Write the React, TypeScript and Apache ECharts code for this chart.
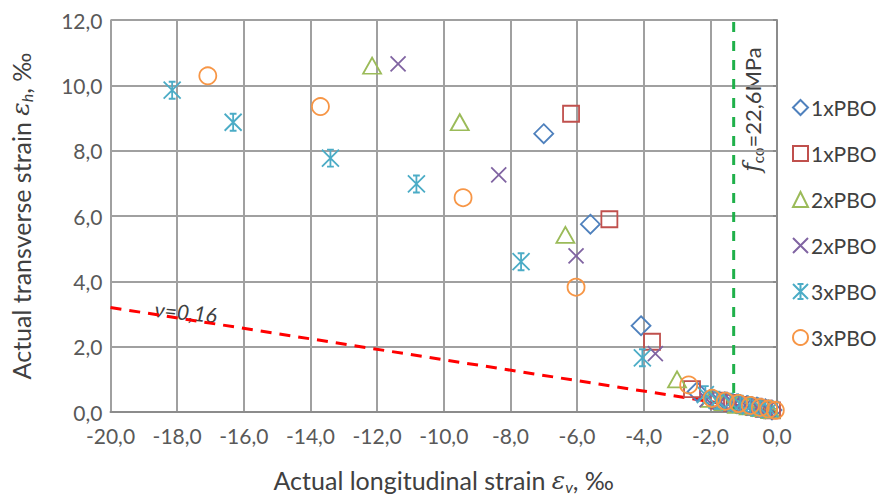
import React, { useEffect, useRef } from "react";
import * as echarts from "echarts";

// ---- data ----
const seriesNames = ["1xPBO", "1xPBO ", "2xPBO", "2xPBO ", "3xPBO", "3xPBO "];
const seriesColors = ["#4F81BD", "#C0504D", "#9BBB59", "#8064A2", "#4BACC6", "#F79646"];

const pbo1a: number[][] = [
  [-7.0, 8.52], [-5.6, 5.75], [-4.08, 2.64], [-2.4, 0.62], [-1.9, 0.38], [-1.5, 0.3],
  [-1.2, 0.25], [-0.9, 0.2], [-0.6, 0.15], [-0.35, 0.1], [-0.15, 0.06],
];
const pbo1b: number[][] = [
  [-6.18, 9.13], [-5.03, 5.9], [-3.75, 2.15], [-2.55, 0.7], [-1.75, 0.35], [-1.35, 0.28],
  [-1.0, 0.22], [-0.7, 0.16], [-0.4, 0.1], [-0.15, 0.05],
];
const pbo2a: number[][] = [
  [-12.15, 10.6], [-9.52, 8.87], [-6.35, 5.42], [-3.0, 1.0], [-2.0, 0.4], [-1.6, 0.3],
  [-1.2, 0.22], [-0.85, 0.17], [-0.5, 0.12], [-0.2, 0.06],
];
const pbo2b: number[][] = [
  [-11.37, 10.66], [-8.35, 7.26], [-6.03, 4.78], [-3.65, 1.79], [-2.1, 0.38], [-1.7, 0.32],
  [-1.3, 0.26], [-0.95, 0.2], [-0.6, 0.14], [-0.3, 0.08],
];
const pbo3a: number[][] = [
  [-18.15, 9.85], [-16.32, 8.87], [-13.4, 7.77], [-10.82, 6.98], [-7.68, 4.6], [-4.04, 1.66],
  [-2.15, 0.53], [-1.8, 0.36], [-1.4, 0.3], [-1.1, 0.24], [-0.8, 0.18], [-0.5, 0.12], [-0.2, 0.07],
];
const pbo3b: number[][] = [
  [-17.08, 10.29], [-13.7, 9.35], [-9.42, 6.56], [-6.03, 3.82], [-2.65, 0.83], [-1.95, 0.42],
  [-1.55, 0.33], [-1.15, 0.26], [-0.8, 0.2], [-0.5, 0.14], [-0.25, 0.09], [-0.05, 0.05],
];
const poissonLine: number[][] = [[-20, 3.2], [0, 0]];
const fcoLine: number[][] = [[-1.3, 0], [-1.3, 12]];

const xTicks = { min: -20, max: 0, interval: 2 };
const yTicks = { min: 0, max: 12, interval: 2 };

const symX = "path://M0,0L10,10M10,0L0,10";
const symStar = "path://M0,0L10,10M10,0L0,10M5,0L5,10M3,0L7,0M3,10L7,10";

const FONT = "Lato, 'Open Sans', sans-serif";
const TXT = "#404040";

export default function App() {
  const ref = useRef<HTMLDivElement>(null);
  useEffect(() => {
    if (!ref.current) return;
    const chart = echarts.init(ref.current, null, { renderer: "svg" });
    const fmt = (v: number) => v.toFixed(1).replace(".", ",");
    const datasets = [pbo1a, pbo1b, pbo2a, pbo2b, pbo3a, pbo3b];
    const symbols = ["diamond", "rect", "triangle", symX, symStar, "circle"];
    const sizes = [[19, 19], [16, 16], [18, 16], [15, 15], [17, 17], [17, 17]];
    const scatter = datasets.map((d, i) => ({
      name: seriesNames[i],
      type: "scatter",
      data: d,
      symbol: symbols[i],
      symbolSize: sizes[i],
      clip: false,
      z: 3,
      itemStyle: {
        color: "rgba(0,0,0,0)",
        borderColor: seriesColors[i],
        borderWidth: 1.8,
        opacity: 1,
      },
    }));
    const titleRich = {
      t: { fontSize: 25, color: TXT, fontFamily: FONT },
      e: { fontSize: 25, color: TXT, fontStyle: "italic", fontFamily: "DejaVu Serif" },
      s: { fontSize: 16, color: TXT, fontStyle: "italic", fontFamily: FONT, padding: [12, 0, 0, 0] },
    };
    const option: any = {
      animation: false,
      backgroundColor: "#fff",
      textStyle: { fontFamily: FONT },
      grid: { left: 109, right: 106, top: 20, bottom: 83.5, containLabel: false },
      xAxis: {
        type: "value",
        ...xTicks,
        name: "{t|Actual longitudinal strain }{e|ε}{s|v}{t|, ‰}",
        nameLocation: "middle",
        nameGap: 54,
        nameTextStyle: { rich: titleRich },
        axisLine: { show: true, lineStyle: { color: "#8c8c8c", width: 2 } },
        axisTick: { show: false },
        splitLine: { show: true, lineStyle: { color: "#a0a0a0", width: 2 } },
        axisLabel: { formatter: fmt, fontSize: 21, color: "#595959", margin: 13, fontFamily: FONT },
      },
      yAxis: {
        type: "value",
        ...yTicks,
        name: "{t|Actual transverse strain }{e|ε}{s|h}{t|, ‰}",
        nameLocation: "middle",
        nameGap: 76,
        nameRotate: 90,
        nameTextStyle: { rich: titleRich },
        axisLine: { show: true, lineStyle: { color: "#8c8c8c", width: 2 } },
        axisTick: { show: true, length: 4, inside: false, lineStyle: { color: "#8c8c8c", width: 2 } },
        splitLine: { show: true, lineStyle: { color: "#a0a0a0", width: 2 } },
        axisLabel: { formatter: fmt, fontSize: 21, color: "#595959", margin: 8, fontFamily: FONT },
      },
      legend: {
        data: seriesNames,
        orient: "vertical",
        left: 787,
        top: 92,
        itemWidth: 15,
        itemHeight: 15,
        itemGap: 25,
        formatter: (n: string) => n.trim(),
        textStyle: { fontSize: 21, color: TXT, fontFamily: FONT, padding: [0, 0, 0, -2] },
      },
      series: [
        {
          name: "nu",
          type: "line",
          data: poissonLine,
          symbol: "none",
          z: 2,
          lineStyle: { color: "#FF0000", width: 3, type: [11, 8] },
          silent: true,
        },
        {
          name: "fco",
          type: "line",
          data: fcoLine,
          symbol: "none",
          z: 2,
          lineStyle: { color: "#1FB04A", width: 3, type: [10, 9] },
          silent: true,
        },
        ...scatter,
      ],
      graphic: [
        {
          type: "text",
          x: 156,
          y: 298,
          rotation: -0.1,
          style: {
            text: "ν=0,16",
            font: `italic 21px ${FONT}`,
            fill: TXT,
          },
        },
        {
          type: "text",
          x: 752,
          y: 172,
          rotation: Math.PI / 2,
          style: {
            text: "{f|f}{s|co}{n|=22,6MPa}",
            verticalAlign: "middle",
            align: "left",
            rich: {
              f: { fontSize: 24, fontStyle: "italic", fontFamily: "DejaVu Serif", fill: TXT, color: TXT },
              s: { fontSize: 15, fontFamily: FONT, fill: TXT, color: TXT, padding: [12, 0, 0, 0] },
              n: { fontSize: 22, fontFamily: FONT, fill: TXT, color: TXT },
            },
          },
        },
      ],
    };
    chart.setOption(option);
    return () => chart.dispose();
  }, []);
  return (
    <div
      ref={ref}
      style={{ position: "absolute", left: 0, top: 0, width: 883, height: 499, background: "#fff" }}
    />
  );
}
